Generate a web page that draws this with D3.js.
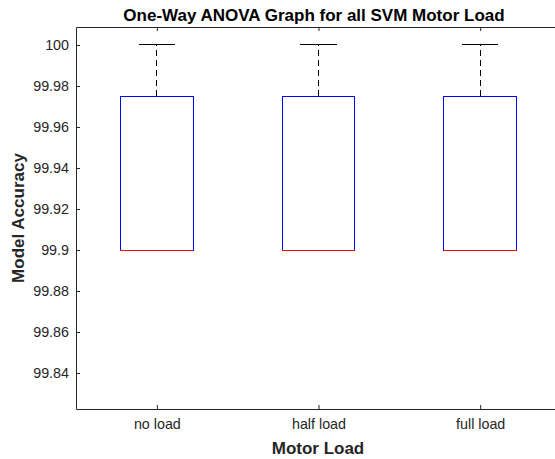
<!DOCTYPE html>
<meta charset="utf-8">
<script src="https://d3js.org/d3.v7.min.js"></script>
<style>
body { margin: 0; background: #fff; }
text { font-family: "Liberation Sans", Arial, sans-serif; }
</style>
<body>
<script>
var w = 555, h = 459;

// data
var categories = ["no load", "half load", "full load"];
var q1 = [99.9, 99.9, 99.9];
var medians = [99.9, 99.9, 99.9];
var q3 = [99.975, 99.975, 99.975];
var lowerWhisker = [99.9, 99.9, 99.9];
var upperWhisker = [100, 100, 100];
var yTicks = [99.84, 99.86, 99.88, 99.9, 99.92, 99.94, 99.96, 99.98, 100];

var plotLeft = 76, plotTop = 27, plotBottom = 409, plotRight = 561;

var svg = d3.select("body").append("svg")
	.attr("width", w)
	.attr("height", h);

var x = d3.scaleLinear().domain([0.5, 3.5]).range([plotLeft, plotRight]);
var y = d3.scaleLinear().domain([99.82244, 100.00878]).range([plotBottom, plotTop]);

var boxW = 0.45, capW = 0.225;
var axisColor = "#262626";

// boxes
var g = svg.append("g").attr("shape-rendering", "crispEdges");
categories.forEach(function(c, i) {
	var cx = x(i + 1);
	var bw = x(1 + boxW / 2) - x(1);
	var cw = x(1 + capW / 2) - x(1);
	// upper whisker
	g.append("line")
		.attr("x1", cx).attr("x2", cx)
		.attr("y1", y(q3[i])).attr("y2", y(upperWhisker[i]))
		.attr("stroke", "#000").attr("stroke-dasharray", "6,4");
	g.append("line")
		.attr("x1", cx - cw).attr("x2", cx + cw)
		.attr("y1", y(upperWhisker[i])).attr("y2", y(upperWhisker[i]))
		.attr("stroke", "#000");
	// lower whisker cap
	g.append("line")
		.attr("x1", cx - cw).attr("x2", cx + cw)
		.attr("y1", y(lowerWhisker[i])).attr("y2", y(lowerWhisker[i]))
		.attr("stroke", "#000");
	g.append("rect")
		.attr("x", cx - bw).attr("y", y(q3[i]))
		.attr("width", 2 * bw).attr("height", y(q1[i]) - y(q3[i]))
		.attr("fill", "none").attr("stroke", "#0000ff");
	g.append("line")
		.attr("x1", cx - bw).attr("x2", cx + bw)
		.attr("y1", y(medians[i])).attr("y2", y(medians[i]))
		.attr("stroke", "#ff0000");
});

// axes
var yAxis = d3.axisLeft(y).tickValues(yTicks).tickSizeInner(-4).tickSizeOuter(0)
	.tickPadding(7).tickFormat(function(d) { return String(+d.toFixed(2)); });
var gy = svg.append("g").attr("transform", "translate(" + plotLeft + ",0)").call(yAxis);

var xAxis = d3.axisBottom(x).tickValues([1, 2, 3]).tickSizeInner(-4).tickSizeOuter(0)
	.tickPadding(10).tickFormat(function(d) { return categories[d - 1]; });
var gx = svg.append("g").attr("transform", "translate(0," + plotBottom + ")").call(xAxis);

var xTop = d3.axisTop(x).tickValues([1, 2, 3]).tickSizeInner(-4).tickSizeOuter(0).tickFormat("");
var gt = svg.append("g").attr("transform", "translate(0," + plotTop + ")").call(xTop);

[gy, gx, gt].forEach(function(a) {
	a.selectAll("path").attr("stroke", axisColor);
	a.selectAll("line").attr("stroke", axisColor);
	a.selectAll("text").attr("fill", axisColor)
		.style("font-family", "'Liberation Sans', Arial, sans-serif")
		.style("font-size", "14.3px");
});

// labels
svg.append("text")
	.attr("x", 314).attr("y", 21)
	.attr("text-anchor", "middle")
	.style("font-size", "17px").style("font-weight", "bold")
	.attr("fill", "#000")
	.text("One-Way ANOVA Graph for all SVM Motor Load");

svg.append("text")
	.attr("transform", "translate(24," + ((plotTop + plotBottom) / 2) + ") rotate(-90)")
	.attr("text-anchor", "middle")
	.style("font-size", "17px").style("font-weight", "bold")
	.attr("fill", axisColor)
	.text("Model Accuracy");

svg.append("text")
	.attr("x", 318).attr("y", 454)
	.attr("text-anchor", "middle")
	.style("font-size", "17px").style("font-weight", "bold")
	.attr("fill", axisColor)
	.text("Motor Load");
</script>
</body>
